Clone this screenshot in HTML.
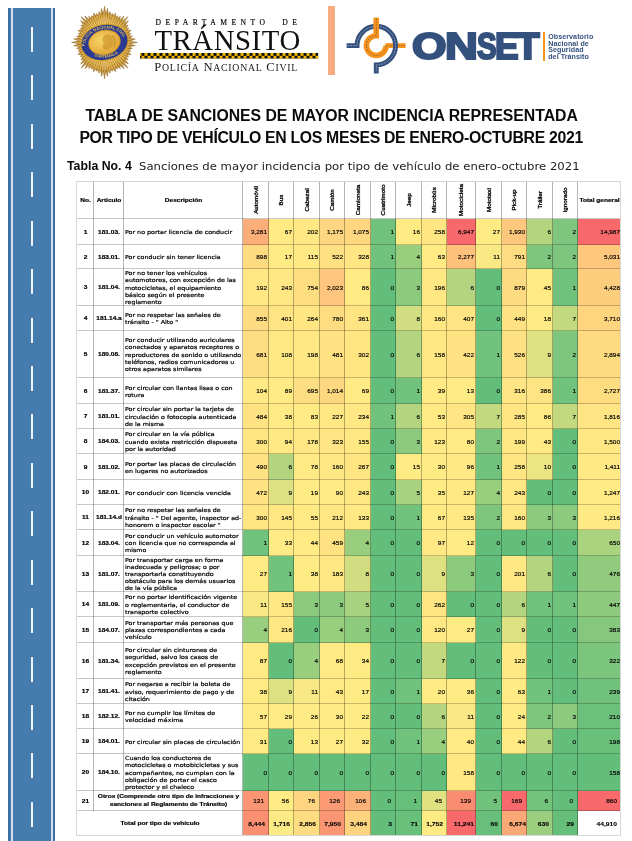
<!DOCTYPE html>
<html lang="es"><head><meta charset="utf-8"><title>Tabla de sanciones de mayor incidencia</title>
<style>
html,body{margin:0;padding:0;background:#fff}
#pg{position:relative;width:632px;height:841px;overflow:hidden;background:#fff;font-family:"DejaVu Sans","Liberation Sans",sans-serif;color:#111}
.c{position:absolute}
.serif{font-family:"Liberation Serif",serif}
.sc{font-size:78%}
.ol{position:absolute;top:24.13px;font-family:'Liberation Sans',sans-serif;font-weight:bold;font-size:35.2px;line-height:44px;color:#34507d;-webkit-text-stroke:2.1px #34507d;transform-origin:0 0;white-space:nowrap}
.ttl{font-family:"Liberation Sans",sans-serif;font-weight:bold;font-size:15.8px;line-height:18px;white-space:nowrap;color:#0a0a0a}
.cap{font-family:"Liberation Sans",sans-serif;font-size:12.4px;line-height:14px;white-space:nowrap;color:#0a0a0a;transform-origin:0 50%;transform:scaleX(0.9945)}
.cap2{font-family:"DejaVu Sans","Liberation Sans",sans-serif;font-size:10.8px;line-height:14px;white-space:nowrap;color:#1c1c1c;transform-origin:0 50%;transform:scaleX(1.083)}
.n{position:absolute;width:60px;text-align:right;font-family:"Liberation Sans",sans-serif;font-size:6px;line-height:8px;height:8px;white-space:nowrap;color:#000;-webkit-text-stroke:0.16px #000;transform-origin:100% 50%;transform:scaleX(1.07)}
.t{position:absolute;text-align:center;font-family:"Liberation Sans",sans-serif;font-size:5.9px;line-height:8px;white-space:nowrap}
.b{font-weight:bold}
.t.b{transform:scaleX(1.11);color:#000;-webkit-text-stroke:0.2px #000}
.n.b{transform-origin:100% 50%;transform:scaleX(1.12);-webkit-text-stroke:0.12px #000}
.d{position:absolute;font-size:5.5px;line-height:7.3px;white-space:nowrap;transform-origin:0 50%;transform:scaleX(1.155);color:#000;-webkit-text-stroke:0.2px #000}
.v{position:absolute;width:60px;height:8px;line-height:8px;text-align:center;font-family:"Liberation Sans",sans-serif;font-size:5.9px;white-space:nowrap;transform:rotate(-90deg) scaleX(1.07);transform-origin:50% 50%;color:#000;-webkit-text-stroke:0.3px #000}
</style></head><body><div id="pg">
<div class="c" style="left:7.8px;top:7.6px;width:47.2px;height:834px;background:#457bad"></div>
<div class="c" style="left:7.8px;top:7.6px;width:2.6px;height:834px;background:#3a70a6"></div>
<div class="c" style="left:52.9px;top:7.6px;width:2.1px;height:834px;background:#3a70a6"></div>
<div class="c" style="left:11.1px;top:7.6px;width:1.6px;height:834px;background:#d3dfec"></div>
<div class="c" style="left:51.3px;top:7.6px;width:1.6px;height:834px;background:#d3dfec"></div>
<div class="c" style="left:30.8px;top:27.00px;width:2.5px;height:25px;background:#eef3f8"></div>
<div class="c" style="left:30.8px;top:75.43px;width:2.5px;height:25px;background:#eef3f8"></div>
<div class="c" style="left:30.8px;top:123.86px;width:2.5px;height:25px;background:#eef3f8"></div>
<div class="c" style="left:30.8px;top:172.29px;width:2.5px;height:25px;background:#eef3f8"></div>
<div class="c" style="left:30.8px;top:220.72px;width:2.5px;height:25px;background:#eef3f8"></div>
<div class="c" style="left:30.8px;top:269.15px;width:2.5px;height:25px;background:#eef3f8"></div>
<div class="c" style="left:30.8px;top:317.58px;width:2.5px;height:25px;background:#eef3f8"></div>
<div class="c" style="left:30.8px;top:366.01px;width:2.5px;height:25px;background:#eef3f8"></div>
<div class="c" style="left:30.8px;top:414.44px;width:2.5px;height:25px;background:#eef3f8"></div>
<div class="c" style="left:30.8px;top:462.87px;width:2.5px;height:25px;background:#eef3f8"></div>
<div class="c" style="left:30.8px;top:511.30px;width:2.5px;height:25px;background:#eef3f8"></div>
<div class="c" style="left:30.8px;top:559.73px;width:2.5px;height:25px;background:#eef3f8"></div>
<div class="c" style="left:30.8px;top:608.16px;width:2.5px;height:25px;background:#eef3f8"></div>
<div class="c" style="left:30.8px;top:656.59px;width:2.5px;height:25px;background:#eef3f8"></div>
<div class="c" style="left:30.8px;top:705.02px;width:2.5px;height:25px;background:#eef3f8"></div>
<div class="c" style="left:30.8px;top:753.45px;width:2.5px;height:25px;background:#eef3f8"></div>
<div class="c" style="left:30.8px;top:801.88px;width:2.5px;height:25px;background:#eef3f8"></div>
<svg class="c" style="left:0;top:0" width="632" height="100" viewBox="0 0 632 100">
<defs>
<radialGradient id="gs" cx="50%" cy="50%" r="50%"><stop offset="0.55" stop-color="#000" stop-opacity="0"/><stop offset="1" stop-color="#5a3508" stop-opacity="0.28"/></radialGradient>
<radialGradient id="gc" cx="42%" cy="40%" r="65%"><stop offset="0" stop-color="#f8d66c"/><stop offset="1" stop-color="#dfa22e"/></radialGradient>
<path id="arcT" d="M 85.2,47.6 A 19.6,14.2 -12 0 1 123.6,38.6"/>
<path id="arcB" d="M 92.5,55.2 A 20,15 -12 0 0 120,51.5"/>
</defs>
<path d="M104.5,42.4L103.3,14.4L104.5,6.0ZM104.5,42.4L105.7,14.4L107.5,8.4ZM104.5,42.4L108.2,14.7L110.0,11.6ZM104.5,42.4L110.7,15.2L112.4,13.5ZM104.5,42.4L113.0,16.0L115.5,13.0ZM104.5,42.4L115.3,17.1L117.4,15.8ZM104.5,42.4L117.5,18.4L120.3,16.3ZM104.5,42.4L119.6,19.9L124.1,16.0ZM104.5,42.4L121.5,21.7L127.8,16.7ZM104.5,42.4L123.3,23.6L128.4,20.7ZM104.5,42.4L124.9,25.7L128.1,25.0ZM104.5,42.4L126.2,28.0L128.6,28.2ZM104.5,42.4L127.4,30.4L131.1,30.2ZM104.5,42.4L128.4,33.0L130.7,33.6ZM104.5,42.4L129.1,35.6L132.4,36.3ZM104.5,42.4L129.6,38.3L135.3,39.0ZM104.5,42.4L129.8,41.0L137.4,42.4ZM104.5,42.4L129.8,43.8L135.3,45.8ZM104.5,42.4L129.6,46.5L132.4,48.5ZM104.5,42.4L129.1,49.2L130.7,51.2ZM104.5,42.4L128.4,51.8L131.1,54.6ZM104.5,42.4L127.4,54.4L128.6,56.6ZM104.5,42.4L126.2,56.8L128.1,59.8ZM104.5,42.4L124.9,59.1L128.4,64.1ZM104.5,42.4L123.3,61.2L127.8,68.1ZM104.5,42.4L121.5,63.1L124.1,68.8ZM104.5,42.4L119.6,64.9L120.3,68.5ZM104.5,42.4L117.5,66.4L117.4,69.0ZM104.5,42.4L115.3,67.7L115.5,71.8ZM104.5,42.4L113.0,68.8L112.4,71.3ZM104.5,42.4L110.7,69.6L110.0,73.2ZM104.5,42.4L108.2,70.1L107.5,76.4ZM104.5,42.4L105.7,70.4L104.5,78.8ZM104.5,42.4L103.3,70.4L101.5,76.4ZM104.5,42.4L100.8,70.1L99.0,73.2ZM104.5,42.4L98.3,69.6L96.6,71.3ZM104.5,42.4L96.0,68.8L93.5,71.8ZM104.5,42.4L93.7,67.7L91.6,69.0ZM104.5,42.4L91.5,66.4L88.7,68.5ZM104.5,42.4L89.4,64.9L84.9,68.8ZM104.5,42.4L87.5,63.1L81.2,68.1ZM104.5,42.4L85.7,61.2L80.6,64.1ZM104.5,42.4L84.1,59.1L80.9,59.8ZM104.5,42.4L82.8,56.8L80.4,56.6ZM104.5,42.4L81.6,54.4L77.9,54.6ZM104.5,42.4L80.6,51.8L78.3,51.2ZM104.5,42.4L79.9,49.2L76.6,48.5ZM104.5,42.4L79.4,46.5L73.7,45.8ZM104.5,42.4L79.2,43.8L71.6,42.4ZM104.5,42.4L79.2,41.0L73.7,39.0ZM104.5,42.4L79.4,38.3L76.6,36.3ZM104.5,42.4L79.9,35.6L78.3,33.6ZM104.5,42.4L80.6,33.0L77.9,30.2ZM104.5,42.4L81.6,30.4L80.4,28.2ZM104.5,42.4L82.8,28.0L80.9,25.0ZM104.5,42.4L84.1,25.7L80.6,20.7ZM104.5,42.4L85.7,23.6L81.2,16.7ZM104.5,42.4L87.5,21.7L84.9,16.0ZM104.5,42.4L89.4,19.9L88.7,16.3ZM104.5,42.4L91.5,18.4L91.6,15.8ZM104.5,42.4L93.7,17.1L93.5,13.0ZM104.5,42.4L96.0,16.0L96.6,13.5ZM104.5,42.4L98.3,15.2L99.0,11.6ZM104.5,42.4L100.8,14.7L101.5,8.4Z" fill="#f4c548"/>
<path d="M104.5,42.4L104.5,6.0L105.7,14.4ZM104.5,42.4L107.5,8.4L108.2,14.7ZM104.5,42.4L110.0,11.6L110.7,15.2ZM104.5,42.4L112.4,13.5L113.0,16.0ZM104.5,42.4L115.5,13.0L115.3,17.1ZM104.5,42.4L117.4,15.8L117.5,18.4ZM104.5,42.4L120.3,16.3L119.6,19.9ZM104.5,42.4L124.1,16.0L121.5,21.7ZM104.5,42.4L127.8,16.7L123.3,23.6ZM104.5,42.4L128.4,20.7L124.9,25.7ZM104.5,42.4L128.1,25.0L126.2,28.0ZM104.5,42.4L128.6,28.2L127.4,30.4ZM104.5,42.4L131.1,30.2L128.4,33.0ZM104.5,42.4L130.7,33.6L129.1,35.6ZM104.5,42.4L132.4,36.3L129.6,38.3ZM104.5,42.4L135.3,39.0L129.8,41.0ZM104.5,42.4L137.4,42.4L129.8,43.8ZM104.5,42.4L135.3,45.8L129.6,46.5ZM104.5,42.4L132.4,48.5L129.1,49.2ZM104.5,42.4L130.7,51.2L128.4,51.8ZM104.5,42.4L131.1,54.6L127.4,54.4ZM104.5,42.4L128.6,56.6L126.2,56.8ZM104.5,42.4L128.1,59.8L124.9,59.1ZM104.5,42.4L128.4,64.1L123.3,61.2ZM104.5,42.4L127.8,68.1L121.5,63.1ZM104.5,42.4L124.1,68.8L119.6,64.9ZM104.5,42.4L120.3,68.5L117.5,66.4ZM104.5,42.4L117.4,69.0L115.3,67.7ZM104.5,42.4L115.5,71.8L113.0,68.8ZM104.5,42.4L112.4,71.3L110.7,69.6ZM104.5,42.4L110.0,73.2L108.2,70.1ZM104.5,42.4L107.5,76.4L105.7,70.4ZM104.5,42.4L104.5,78.8L103.3,70.4ZM104.5,42.4L101.5,76.4L100.8,70.1ZM104.5,42.4L99.0,73.2L98.3,69.6ZM104.5,42.4L96.6,71.3L96.0,68.8ZM104.5,42.4L93.5,71.8L93.7,67.7ZM104.5,42.4L91.6,69.0L91.5,66.4ZM104.5,42.4L88.7,68.5L89.4,64.9ZM104.5,42.4L84.9,68.8L87.5,63.1ZM104.5,42.4L81.2,68.1L85.7,61.2ZM104.5,42.4L80.6,64.1L84.1,59.1ZM104.5,42.4L80.9,59.8L82.8,56.8ZM104.5,42.4L80.4,56.6L81.6,54.4ZM104.5,42.4L77.9,54.6L80.6,51.8ZM104.5,42.4L78.3,51.2L79.9,49.2ZM104.5,42.4L76.6,48.5L79.4,46.5ZM104.5,42.4L73.7,45.8L79.2,43.8ZM104.5,42.4L71.6,42.4L79.2,41.0ZM104.5,42.4L73.7,39.0L79.4,38.3ZM104.5,42.4L76.6,36.3L79.9,35.6ZM104.5,42.4L78.3,33.6L80.6,33.0ZM104.5,42.4L77.9,30.2L81.6,30.4ZM104.5,42.4L80.4,28.2L82.8,28.0ZM104.5,42.4L80.9,25.0L84.1,25.7ZM104.5,42.4L80.6,20.7L85.7,23.6ZM104.5,42.4L81.2,16.7L87.5,21.7ZM104.5,42.4L84.9,16.0L89.4,19.9ZM104.5,42.4L88.7,16.3L91.5,18.4ZM104.5,42.4L91.6,15.8L93.7,17.1ZM104.5,42.4L93.5,13.0L96.0,16.0ZM104.5,42.4L96.6,13.5L98.3,15.2ZM104.5,42.4L99.0,11.6L100.8,14.7ZM104.5,42.4L101.5,8.4L103.3,14.4Z" fill="#c98c1d"/>
<polygon points="103.3,14.4 104.5,6.0 105.7,14.4 107.5,8.4 108.2,14.7 110.0,11.6 110.7,15.2 112.4,13.5 113.0,16.0 115.5,13.0 115.3,17.1 117.4,15.8 117.5,18.4 120.3,16.3 119.6,19.9 124.1,16.0 121.5,21.7 127.8,16.7 123.3,23.6 128.4,20.7 124.9,25.7 128.1,25.0 126.2,28.0 128.6,28.2 127.4,30.4 131.1,30.2 128.4,33.0 130.7,33.6 129.1,35.6 132.4,36.3 129.6,38.3 135.3,39.0 129.8,41.0 137.4,42.4 129.8,43.8 135.3,45.8 129.6,46.5 132.4,48.5 129.1,49.2 130.7,51.2 128.4,51.8 131.1,54.6 127.4,54.4 128.6,56.6 126.2,56.8 128.1,59.8 124.9,59.1 128.4,64.1 123.3,61.2 127.8,68.1 121.5,63.1 124.1,68.8 119.6,64.9 120.3,68.5 117.5,66.4 117.4,69.0 115.3,67.7 115.5,71.8 113.0,68.8 112.4,71.3 110.7,69.6 110.0,73.2 108.2,70.1 107.5,76.4 105.7,70.4 104.5,78.8 103.3,70.4 101.5,76.4 100.8,70.1 99.0,73.2 98.3,69.6 96.6,71.3 96.0,68.8 93.5,71.8 93.7,67.7 91.6,69.0 91.5,66.4 88.7,68.5 89.4,64.9 84.9,68.8 87.5,63.1 81.2,68.1 85.7,61.2 80.6,64.1 84.1,59.1 80.9,59.8 82.8,56.8 80.4,56.6 81.6,54.4 77.9,54.6 80.6,51.8 78.3,51.2 79.9,49.2 76.6,48.5 79.4,46.5 73.7,45.8 79.2,43.8 71.6,42.4 79.2,41.0 73.7,39.0 79.4,38.3 76.6,36.3 79.9,35.6 78.3,33.6 80.6,33.0 77.9,30.2 81.6,30.4 80.4,28.2 82.8,28.0 80.9,25.0 84.1,25.7 80.6,20.7 85.7,23.6 81.2,16.7 87.5,21.7 84.9,16.0 89.4,19.9 88.7,16.3 91.5,18.4 91.6,15.8 93.7,17.1 93.5,13.0 96.0,16.0 96.6,13.5 98.3,15.2 99.0,11.6 100.8,14.7 101.5,8.4" fill="url(#gs)" stroke="#8a5c18" stroke-width="0.45"/>
<ellipse cx="104.5" cy="42.4" rx="24.2" ry="18.3" transform="rotate(-12 104.5 42.4)" fill="#c8952c"/>
<ellipse cx="104.5" cy="42.4" rx="23.2" ry="17.3" transform="rotate(-12 104.5 42.4)" fill="#283a94"/>
<ellipse cx="104.5" cy="42.4" rx="16" ry="12.3" transform="rotate(-12 104.5 42.4)" fill="url(#gc)" stroke="#c08a26" stroke-width="0.7"/>
<path d="M104,35.5 l4,-1.5 l3.5,2 l2,4 l-0.5,5 l-3.5,4 l-5,1 l-2,-3 l1.5,-4 l-2,-3 z" fill="#c98f28" opacity="0.6"/>
<path d="M112.5,35.5 q4,4 1.5,11" stroke="#b5801f" stroke-width="1.2" fill="none" opacity="0.7"/>
<text font-family="Liberation Sans, sans-serif" font-weight="bold" font-size="4" fill="#e6bd55" letter-spacing="0.05"><textPath href="#arcT" startOffset="1.5">POLICIA NACIONAL CIVIL</textPath></text>
<text font-family="Liberation Sans, sans-serif" font-weight="bold" font-size="3.9" fill="#e6bd55"><textPath href="#arcB" startOffset="2">GUATEMALA</textPath></text>
</svg>

<div class="c serif" style="left:155.6px;top:18.1px;font-size:7.6px;line-height:9px;letter-spacing:4.48px;white-space:nowrap;color:#000;-webkit-text-stroke:0.15px #000">DEPARTAMENTO&nbsp;&nbsp;DE</div>
<div class="c serif" id="trans" style="left:154.4px;top:24.3px;font-size:28.8px;line-height:32px;letter-spacing:0.56px;white-space:nowrap;color:#111">TRÁNSITO</div>
<svg class="c" style="left:139.5px;top:52.8px" width="180" height="7" viewBox="0 0 180 7">
<defs><pattern id="chk" x="1.5" width="6" height="5.7" patternUnits="userSpaceOnUse"><rect width="6" height="5.7" fill="#f2b705"/><rect x="0" y="0" width="3" height="2.85" fill="#111"/><rect x="3" y="2.85" width="3" height="2.85" fill="#111"/></pattern></defs>
<rect x="0" y="0" width="178.2" height="5.7" fill="url(#chk)"/></svg>
<div class="c serif" id="pnc" aria-label="POLICÍA NACIONAL CIVIL" style="left:154.3px;top:60.1px;font-size:12.6px;line-height:14px;letter-spacing:0.72px;white-space:nowrap;color:#1a1a1a">P<span class="sc">OLICÍA</span> N<span class="sc">ACIONAL</span> C<span class="sc">IVIL</span></div>
<div class="c" style="left:328px;top:6px;width:6.5px;height:68.7px;background:#f7ab80"></div>

<svg class="c" style="left:0;top:0" width="632" height="100" viewBox="0 0 632 100">
<g fill="none" stroke-linecap="butt" stroke-linejoin="miter">
<!-- orange horizontal stub (under blue) -->
<path d="M 385.2,45.6 H 405.6" stroke="#f7941e" stroke-width="4.8"/>
<path d="M 387.2,45.6 H 405" stroke="#3a3a3a" stroke-width="0.5" stroke-dasharray="1.6 1.2"/>
<!-- blue -->
<path d="M 346.6,45.6 H 357.0 A 19.3,19.3 0 1 1 376.3,64.9 V 73.4" stroke="#34507d" stroke-width="4.9"/>
<path d="M 347.5,45.6 H 357.0 A 19.3,19.3 0 1 1 376.3,64.9 V 72.5" stroke="#e8edf5" stroke-width="0.5" stroke-dasharray="1.7 1.2"/>
<!-- orange ring + vertical stub (over blue) -->
<path d="M 376.3,17.8 V 35.7 A 9.9,9.9 0 1 0 386.2,45.6" stroke="#f7941e" stroke-width="5.6"/>
<path d="M 376.3,32.7 V 17.8" stroke="#f7941e" stroke-width="5.0"/>
<path d="M 376.3,18.5 V 35.7 A 9.9,9.9 0 1 0 386.2,45.6" stroke="#3a3a3a" stroke-width="0.5" stroke-dasharray="1.6 1.2"/>
</g>
</svg>
<div class="c" id="onset" aria-label="ONSET" style="left:0;top:0;width:0;height:0"><span class="ol" style="left:412.47px;transform:scale(1.26,1.036)">O</span><span class="ol" style="left:445.18px;transform:scale(1.292,1.036)">N</span><span class="ol" style="left:476.61px;transform:scale(0.834,1.036)">S</span><span class="ol" style="left:495.14px;transform:scale(1.005,1.036)">E</span><span class="ol" style="left:516.12px;transform:scale(1.096,1.036)">T</span></div>
<div class="c" style="left:543.3px;top:32.3px;width:2px;height:28.5px;background:#f7941e"></div>
<div class="c" id="obs" style="left:548.2px;top:33.8px;font-family:'Liberation Sans',sans-serif;font-weight:bold;font-size:7.1px;line-height:6.7px;letter-spacing:0.08px;color:#34507d;white-space:nowrap">Observatorio<br>Nacional de<br>Seguridad<br>del Tránsito</div>


<div class="c ttl" id="t1" style="left:85.4px;top:107.2px;letter-spacing:-0.04px">TABLA DE SANCIONES DE MAYOR INCIDENCIA REPRESENTADA</div>
<div class="c ttl" id="t2" style="left:79.4px;top:128.8px;letter-spacing:-0.31px">POR TIPO DE VEHÍCULO EN LOS MESES DE ENERO-OCTUBRE 2021</div>
<div class="c cap" id="cap" style="left:66.7px;top:159.2px"><b>Tabla No. 4</b></div>
<div class="c cap2" id="cap2" style="left:139.4px;top:160.1px">Sanciones de mayor incidencia por tipo de vehículo de enero-octubre 2021</div>

<div class="c" style="left:242.50px;top:218.50px;width:26.00px;height:26.00px;background:#fcae78"></div>
<div class="n" style="left:207.20px;top:228.20px">3,281</div>
<div class="c" style="left:268.50px;top:218.50px;width:25.00px;height:26.00px;background:#ffea84"></div>
<div class="n" style="left:232.20px;top:228.20px">67</div>
<div class="c" style="left:293.50px;top:218.50px;width:26.00px;height:26.00px;background:#ffe783"></div>
<div class="n" style="left:258.20px;top:228.20px">202</div>
<div class="c" style="left:319.50px;top:218.50px;width:25.00px;height:26.00px;background:#fed580"></div>
<div class="n" style="left:283.20px;top:228.20px">1,175</div>
<div class="c" style="left:344.50px;top:218.50px;width:26.00px;height:26.00px;background:#fed780"></div>
<div class="n" style="left:309.20px;top:228.20px">1,075</div>
<div class="c" style="left:370.50px;top:218.50px;width:25.00px;height:26.00px;background:#71c27c"></div>
<div class="n" style="left:334.20px;top:228.20px">1</div>
<div class="c" style="left:395.50px;top:218.50px;width:26.00px;height:26.00px;background:#ffeb84"></div>
<div class="n" style="left:360.20px;top:228.20px">16</div>
<div class="c" style="left:421.50px;top:218.50px;width:25.00px;height:26.00px;background:#ffe683"></div>
<div class="n" style="left:385.20px;top:228.20px">258</div>
<div class="c" style="left:446.50px;top:218.50px;width:29.00px;height:26.00px;background:#f8696b"></div>
<div class="n" style="left:414.20px;top:228.20px">6,947</div>
<div class="c" style="left:475.50px;top:218.50px;width:26.00px;height:26.00px;background:#ffeb84"></div>
<div class="n" style="left:440.20px;top:228.20px">27</div>
<div class="c" style="left:501.50px;top:218.50px;width:25.00px;height:26.00px;background:#fdc77d"></div>
<div class="n" style="left:465.20px;top:228.20px">1,930</div>
<div class="c" style="left:526.50px;top:218.50px;width:26.00px;height:26.00px;background:#b4d580"></div>
<div class="n" style="left:491.20px;top:228.20px">6</div>
<div class="c" style="left:552.50px;top:218.50px;width:25.00px;height:26.00px;background:#7ec67d"></div>
<div class="n" style="left:516.20px;top:228.20px">2</div>
<div class="c" style="left:577.50px;top:218.50px;width:43.00px;height:26.00px;background:#f8696b"></div>
<div class="n" style="left:559.70px;top:228.20px">14,987</div>
<div class="t b" style="left:76.50px;width:17.00px;top:227.90px">1</div>
<div class="t b" style="left:93.50px;width:30.00px;top:227.90px">181.03.</div>
<div class="d" style="left:124.90px;top:229.15px;line-height:7.3px">Por no portar licencia de conducir</div>
<div class="c" style="left:242.50px;top:244.50px;width:26.00px;height:24.00px;background:#feda81"></div>
<div class="n" style="left:207.20px;top:253.20px">898</div>
<div class="c" style="left:268.50px;top:244.50px;width:25.00px;height:24.00px;background:#ffeb84"></div>
<div class="n" style="left:232.20px;top:253.20px">17</div>
<div class="c" style="left:293.50px;top:244.50px;width:26.00px;height:24.00px;background:#ffe984"></div>
<div class="n" style="left:258.20px;top:253.20px">115</div>
<div class="c" style="left:319.50px;top:244.50px;width:25.00px;height:24.00px;background:#fee182"></div>
<div class="n" style="left:283.20px;top:253.20px">522</div>
<div class="c" style="left:344.50px;top:244.50px;width:26.00px;height:24.00px;background:#ffe583"></div>
<div class="n" style="left:309.20px;top:253.20px">328</div>
<div class="c" style="left:370.50px;top:244.50px;width:25.00px;height:24.00px;background:#71c27c"></div>
<div class="n" style="left:334.20px;top:253.20px">1</div>
<div class="c" style="left:395.50px;top:244.50px;width:26.00px;height:24.00px;background:#99ce7e"></div>
<div class="n" style="left:360.20px;top:253.20px">4</div>
<div class="c" style="left:421.50px;top:244.50px;width:25.00px;height:24.00px;background:#ffea84"></div>
<div class="n" style="left:385.20px;top:253.20px">63</div>
<div class="c" style="left:446.50px;top:244.50px;width:29.00px;height:24.00px;background:#fdc17c"></div>
<div class="n" style="left:414.20px;top:253.20px">2,277</div>
<div class="c" style="left:475.50px;top:244.50px;width:26.00px;height:24.00px;background:#f8e984"></div>
<div class="n" style="left:440.20px;top:253.20px">11</div>
<div class="c" style="left:501.50px;top:244.50px;width:25.00px;height:24.00px;background:#fedc81"></div>
<div class="n" style="left:465.20px;top:253.20px">791</div>
<div class="c" style="left:526.50px;top:244.50px;width:26.00px;height:24.00px;background:#7ec67d"></div>
<div class="n" style="left:491.20px;top:253.20px">2</div>
<div class="c" style="left:552.50px;top:244.50px;width:25.00px;height:24.00px;background:#7ec67d"></div>
<div class="n" style="left:516.20px;top:253.20px">2</div>
<div class="c" style="left:577.50px;top:244.50px;width:43.00px;height:24.00px;background:#fdc77d"></div>
<div class="n" style="left:559.70px;top:253.20px">5,031</div>
<div class="t b" style="left:76.50px;width:17.00px;top:252.90px">2</div>
<div class="t b" style="left:93.50px;width:30.00px;top:252.90px">183.01.</div>
<div class="d" style="left:124.90px;top:254.15px;line-height:7.3px">Por conducir sin tener licencia</div>
<div class="c" style="left:242.50px;top:268.50px;width:26.00px;height:37.00px;background:#ffe883"></div>
<div class="n" style="left:207.20px;top:283.70px">192</div>
<div class="c" style="left:268.50px;top:268.50px;width:25.00px;height:37.00px;background:#ffe783"></div>
<div class="n" style="left:232.20px;top:283.70px">243</div>
<div class="c" style="left:293.50px;top:268.50px;width:26.00px;height:37.00px;background:#fedd81"></div>
<div class="n" style="left:258.20px;top:283.70px">754</div>
<div class="c" style="left:319.50px;top:268.50px;width:25.00px;height:37.00px;background:#fdc57d"></div>
<div class="n" style="left:283.20px;top:283.70px">2,023</div>
<div class="c" style="left:344.50px;top:268.50px;width:26.00px;height:37.00px;background:#ffea84"></div>
<div class="n" style="left:309.20px;top:283.70px">86</div>
<div class="c" style="left:370.50px;top:268.50px;width:25.00px;height:37.00px;background:#63be7b"></div>
<div class="n" style="left:334.20px;top:283.70px">0</div>
<div class="c" style="left:395.50px;top:268.50px;width:26.00px;height:37.00px;background:#8cca7d"></div>
<div class="n" style="left:360.20px;top:283.70px">3</div>
<div class="c" style="left:421.50px;top:268.50px;width:25.00px;height:37.00px;background:#ffe883"></div>
<div class="n" style="left:385.20px;top:283.70px">196</div>
<div class="c" style="left:446.50px;top:268.50px;width:29.00px;height:37.00px;background:#b4d580"></div>
<div class="n" style="left:414.20px;top:283.70px">6</div>
<div class="c" style="left:475.50px;top:268.50px;width:26.00px;height:37.00px;background:#63be7b"></div>
<div class="n" style="left:440.20px;top:283.70px">0</div>
<div class="c" style="left:501.50px;top:268.50px;width:25.00px;height:37.00px;background:#fedb81"></div>
<div class="n" style="left:465.20px;top:283.70px">879</div>
<div class="c" style="left:526.50px;top:268.50px;width:26.00px;height:37.00px;background:#ffea84"></div>
<div class="n" style="left:491.20px;top:283.70px">45</div>
<div class="c" style="left:552.50px;top:268.50px;width:25.00px;height:37.00px;background:#71c27c"></div>
<div class="n" style="left:516.20px;top:283.70px">1</div>
<div class="c" style="left:577.50px;top:268.50px;width:43.00px;height:37.00px;background:#fdcd7e"></div>
<div class="n" style="left:559.70px;top:283.70px">4,428</div>
<div class="t b" style="left:76.50px;width:17.00px;top:283.40px">3</div>
<div class="t b" style="left:93.50px;width:30.00px;top:283.40px">181.04.</div>
<div class="d" style="left:124.90px;top:270.05px;line-height:7.3px">Por no tener los vehículos<br>automotores, con excepción de las<br>motocicletas, el equipamiento<br>básico según el presente<br>reglamento</div>
<div class="c" style="left:242.50px;top:305.50px;width:26.00px;height:25.00px;background:#fedb81"></div>
<div class="n" style="left:207.20px;top:314.70px">855</div>
<div class="c" style="left:268.50px;top:305.50px;width:25.00px;height:25.00px;background:#ffe483"></div>
<div class="n" style="left:232.20px;top:314.70px">401</div>
<div class="c" style="left:293.50px;top:305.50px;width:26.00px;height:25.00px;background:#ffe683"></div>
<div class="n" style="left:258.20px;top:314.70px">264</div>
<div class="c" style="left:319.50px;top:305.50px;width:25.00px;height:25.00px;background:#fedd81"></div>
<div class="n" style="left:283.20px;top:314.70px">780</div>
<div class="c" style="left:344.50px;top:305.50px;width:26.00px;height:25.00px;background:#ffe483"></div>
<div class="n" style="left:309.20px;top:314.70px">361</div>
<div class="c" style="left:370.50px;top:305.50px;width:25.00px;height:25.00px;background:#63be7b"></div>
<div class="n" style="left:334.20px;top:314.70px">0</div>
<div class="c" style="left:395.50px;top:305.50px;width:26.00px;height:25.00px;background:#d0dd81"></div>
<div class="n" style="left:360.20px;top:314.70px">8</div>
<div class="c" style="left:421.50px;top:305.50px;width:25.00px;height:25.00px;background:#ffe883"></div>
<div class="n" style="left:385.20px;top:314.70px">160</div>
<div class="c" style="left:446.50px;top:305.50px;width:29.00px;height:25.00px;background:#ffe483"></div>
<div class="n" style="left:414.20px;top:314.70px">407</div>
<div class="c" style="left:475.50px;top:305.50px;width:26.00px;height:25.00px;background:#63be7b"></div>
<div class="n" style="left:440.20px;top:314.70px">0</div>
<div class="c" style="left:501.50px;top:305.50px;width:25.00px;height:25.00px;background:#ffe382"></div>
<div class="n" style="left:465.20px;top:314.70px">449</div>
<div class="c" style="left:526.50px;top:305.50px;width:26.00px;height:25.00px;background:#ffeb84"></div>
<div class="n" style="left:491.20px;top:314.70px">18</div>
<div class="c" style="left:552.50px;top:305.50px;width:25.00px;height:25.00px;background:#c2d980"></div>
<div class="n" style="left:516.20px;top:314.70px">7</div>
<div class="c" style="left:577.50px;top:305.50px;width:43.00px;height:25.00px;background:#fed47f"></div>
<div class="n" style="left:559.70px;top:314.70px">3,710</div>
<div class="t b" style="left:76.50px;width:17.00px;top:314.40px">4</div>
<div class="t b" style="left:93.50px;width:30.00px;top:314.40px">181.14.a</div>
<div class="d" style="left:124.90px;top:312.00px;line-height:7.3px">Por no respetar las señales de<br>tránsito - " Alto "</div>
<div class="c" style="left:242.50px;top:330.50px;width:26.00px;height:47.00px;background:#fede82"></div>
<div class="n" style="left:207.20px;top:350.70px">681</div>
<div class="c" style="left:268.50px;top:330.50px;width:25.00px;height:47.00px;background:#ffe984"></div>
<div class="n" style="left:232.20px;top:350.70px">108</div>
<div class="c" style="left:293.50px;top:330.50px;width:26.00px;height:47.00px;background:#ffe883"></div>
<div class="n" style="left:258.20px;top:350.70px">198</div>
<div class="c" style="left:319.50px;top:330.50px;width:25.00px;height:47.00px;background:#ffe282"></div>
<div class="n" style="left:283.20px;top:350.70px">481</div>
<div class="c" style="left:344.50px;top:330.50px;width:26.00px;height:47.00px;background:#ffe683"></div>
<div class="n" style="left:309.20px;top:350.70px">302</div>
<div class="c" style="left:370.50px;top:330.50px;width:25.00px;height:47.00px;background:#63be7b"></div>
<div class="n" style="left:334.20px;top:350.70px">0</div>
<div class="c" style="left:395.50px;top:330.50px;width:26.00px;height:47.00px;background:#b4d580"></div>
<div class="n" style="left:360.20px;top:350.70px">6</div>
<div class="c" style="left:421.50px;top:330.50px;width:25.00px;height:47.00px;background:#ffe883"></div>
<div class="n" style="left:385.20px;top:350.70px">158</div>
<div class="c" style="left:446.50px;top:330.50px;width:29.00px;height:47.00px;background:#ffe383"></div>
<div class="n" style="left:414.20px;top:350.70px">422</div>
<div class="c" style="left:475.50px;top:330.50px;width:26.00px;height:47.00px;background:#71c27c"></div>
<div class="n" style="left:440.20px;top:350.70px">1</div>
<div class="c" style="left:501.50px;top:330.50px;width:25.00px;height:47.00px;background:#fee182"></div>
<div class="n" style="left:465.20px;top:350.70px">526</div>
<div class="c" style="left:526.50px;top:330.50px;width:26.00px;height:47.00px;background:#dde182"></div>
<div class="n" style="left:491.20px;top:350.70px">9</div>
<div class="c" style="left:552.50px;top:330.50px;width:25.00px;height:47.00px;background:#7ec67d"></div>
<div class="n" style="left:516.20px;top:350.70px">2</div>
<div class="c" style="left:577.50px;top:330.50px;width:43.00px;height:47.00px;background:#fedb81"></div>
<div class="n" style="left:559.70px;top:350.70px">2,894</div>
<div class="t b" style="left:76.50px;width:17.00px;top:350.40px">5</div>
<div class="t b" style="left:93.50px;width:30.00px;top:350.40px">180.08.</div>
<div class="d" style="left:124.90px;top:337.05px;line-height:7.3px">Por conducir utilizando auriculares<br>conectados y aparatos receptores o<br>reproductores de sonido o utilizando<br>teléfonos, radios comunicadores u<br>otros aparatos similares</div>
<div class="c" style="left:242.50px;top:377.50px;width:26.00px;height:26.00px;background:#ffe984"></div>
<div class="n" style="left:207.20px;top:387.20px">104</div>
<div class="c" style="left:268.50px;top:377.50px;width:25.00px;height:26.00px;background:#ffea84"></div>
<div class="n" style="left:232.20px;top:387.20px">89</div>
<div class="c" style="left:293.50px;top:377.50px;width:26.00px;height:26.00px;background:#fede82"></div>
<div class="n" style="left:258.20px;top:387.20px">695</div>
<div class="c" style="left:319.50px;top:377.50px;width:25.00px;height:26.00px;background:#fed880"></div>
<div class="n" style="left:283.20px;top:387.20px">1,014</div>
<div class="c" style="left:344.50px;top:377.50px;width:26.00px;height:26.00px;background:#ffea84"></div>
<div class="n" style="left:309.20px;top:387.20px">69</div>
<div class="c" style="left:370.50px;top:377.50px;width:25.00px;height:26.00px;background:#63be7b"></div>
<div class="n" style="left:334.20px;top:387.20px">0</div>
<div class="c" style="left:395.50px;top:377.50px;width:26.00px;height:26.00px;background:#71c27c"></div>
<div class="n" style="left:360.20px;top:387.20px">1</div>
<div class="c" style="left:421.50px;top:377.50px;width:25.00px;height:26.00px;background:#ffea84"></div>
<div class="n" style="left:385.20px;top:387.20px">39</div>
<div class="c" style="left:446.50px;top:377.50px;width:29.00px;height:26.00px;background:#ffeb84"></div>
<div class="n" style="left:414.20px;top:387.20px">13</div>
<div class="c" style="left:475.50px;top:377.50px;width:26.00px;height:26.00px;background:#63be7b"></div>
<div class="n" style="left:440.20px;top:387.20px">0</div>
<div class="c" style="left:501.50px;top:377.50px;width:25.00px;height:26.00px;background:#ffe583"></div>
<div class="n" style="left:465.20px;top:387.20px">316</div>
<div class="c" style="left:526.50px;top:377.50px;width:26.00px;height:26.00px;background:#ffe483"></div>
<div class="n" style="left:491.20px;top:387.20px">386</div>
<div class="c" style="left:552.50px;top:377.50px;width:25.00px;height:26.00px;background:#71c27c"></div>
<div class="n" style="left:516.20px;top:387.20px">1</div>
<div class="c" style="left:577.50px;top:377.50px;width:43.00px;height:26.00px;background:#fedd81"></div>
<div class="n" style="left:559.70px;top:387.20px">2,727</div>
<div class="t b" style="left:76.50px;width:17.00px;top:386.90px">6</div>
<div class="t b" style="left:93.50px;width:30.00px;top:386.90px">181.37.</div>
<div class="d" style="left:124.90px;top:384.50px;line-height:7.3px">Por circular con llantas lisas o con<br>rotura</div>
<div class="c" style="left:242.50px;top:403.50px;width:26.00px;height:25.00px;background:#ffe282"></div>
<div class="n" style="left:207.20px;top:412.70px">484</div>
<div class="c" style="left:268.50px;top:403.50px;width:25.00px;height:25.00px;background:#ffeb84"></div>
<div class="n" style="left:232.20px;top:412.70px">38</div>
<div class="c" style="left:293.50px;top:403.50px;width:26.00px;height:25.00px;background:#ffea84"></div>
<div class="n" style="left:258.20px;top:412.70px">83</div>
<div class="c" style="left:319.50px;top:403.50px;width:25.00px;height:25.00px;background:#ffe783"></div>
<div class="n" style="left:283.20px;top:412.70px">227</div>
<div class="c" style="left:344.50px;top:403.50px;width:26.00px;height:25.00px;background:#ffe783"></div>
<div class="n" style="left:309.20px;top:412.70px">234</div>
<div class="c" style="left:370.50px;top:403.50px;width:25.00px;height:25.00px;background:#71c27c"></div>
<div class="n" style="left:334.20px;top:412.70px">1</div>
<div class="c" style="left:395.50px;top:403.50px;width:26.00px;height:25.00px;background:#b4d580"></div>
<div class="n" style="left:360.20px;top:412.70px">6</div>
<div class="c" style="left:421.50px;top:403.50px;width:25.00px;height:25.00px;background:#ffea84"></div>
<div class="n" style="left:385.20px;top:412.70px">53</div>
<div class="c" style="left:446.50px;top:403.50px;width:29.00px;height:25.00px;background:#ffe583"></div>
<div class="n" style="left:414.20px;top:412.70px">305</div>
<div class="c" style="left:475.50px;top:403.50px;width:26.00px;height:25.00px;background:#c2d980"></div>
<div class="n" style="left:440.20px;top:412.70px">7</div>
<div class="c" style="left:501.50px;top:403.50px;width:25.00px;height:25.00px;background:#ffe683"></div>
<div class="n" style="left:465.20px;top:412.70px">285</div>
<div class="c" style="left:526.50px;top:403.50px;width:26.00px;height:25.00px;background:#ffea84"></div>
<div class="n" style="left:491.20px;top:412.70px">86</div>
<div class="c" style="left:552.50px;top:403.50px;width:25.00px;height:25.00px;background:#c2d980"></div>
<div class="n" style="left:516.20px;top:412.70px">7</div>
<div class="c" style="left:577.50px;top:403.50px;width:43.00px;height:25.00px;background:#ffe583"></div>
<div class="n" style="left:559.70px;top:412.70px">1,816</div>
<div class="t b" style="left:76.50px;width:17.00px;top:412.40px">7</div>
<div class="t b" style="left:93.50px;width:30.00px;top:412.40px">181.01.</div>
<div class="d" style="left:124.90px;top:406.35px;line-height:7.3px">Por circular sin portar la tarjeta de<br>circulación o fotocopia autenticada<br>de la misma</div>
<div class="c" style="left:242.50px;top:428.50px;width:26.00px;height:25.00px;background:#ffe683"></div>
<div class="n" style="left:207.20px;top:437.70px">300</div>
<div class="c" style="left:268.50px;top:428.50px;width:25.00px;height:25.00px;background:#ffe984"></div>
<div class="n" style="left:232.20px;top:437.70px">94</div>
<div class="c" style="left:293.50px;top:428.50px;width:26.00px;height:25.00px;background:#ffe883"></div>
<div class="n" style="left:258.20px;top:437.70px">178</div>
<div class="c" style="left:319.50px;top:428.50px;width:25.00px;height:25.00px;background:#ffe583"></div>
<div class="n" style="left:283.20px;top:437.70px">323</div>
<div class="c" style="left:344.50px;top:428.50px;width:26.00px;height:25.00px;background:#ffe883"></div>
<div class="n" style="left:309.20px;top:437.70px">155</div>
<div class="c" style="left:370.50px;top:428.50px;width:25.00px;height:25.00px;background:#63be7b"></div>
<div class="n" style="left:334.20px;top:437.70px">0</div>
<div class="c" style="left:395.50px;top:428.50px;width:26.00px;height:25.00px;background:#8cca7d"></div>
<div class="n" style="left:360.20px;top:437.70px">3</div>
<div class="c" style="left:421.50px;top:428.50px;width:25.00px;height:25.00px;background:#ffe984"></div>
<div class="n" style="left:385.20px;top:437.70px">123</div>
<div class="c" style="left:446.50px;top:428.50px;width:29.00px;height:25.00px;background:#ffea84"></div>
<div class="n" style="left:414.20px;top:437.70px">80</div>
<div class="c" style="left:475.50px;top:428.50px;width:26.00px;height:25.00px;background:#7ec67d"></div>
<div class="n" style="left:440.20px;top:437.70px">2</div>
<div class="c" style="left:501.50px;top:428.50px;width:25.00px;height:25.00px;background:#ffe783"></div>
<div class="n" style="left:465.20px;top:437.70px">199</div>
<div class="c" style="left:526.50px;top:428.50px;width:26.00px;height:25.00px;background:#ffea84"></div>
<div class="n" style="left:491.20px;top:437.70px">43</div>
<div class="c" style="left:552.50px;top:428.50px;width:25.00px;height:25.00px;background:#63be7b"></div>
<div class="n" style="left:516.20px;top:437.70px">0</div>
<div class="c" style="left:577.50px;top:428.50px;width:43.00px;height:25.00px;background:#ffe884"></div>
<div class="n" style="left:559.70px;top:437.70px">1,500</div>
<div class="t b" style="left:76.50px;width:17.00px;top:437.40px">8</div>
<div class="t b" style="left:93.50px;width:30.00px;top:437.40px">184.03.</div>
<div class="d" style="left:124.90px;top:431.35px;line-height:7.3px">Por circular en la vía pública<br>cuando exista restricción dispuesta<br>por la autoridad</div>
<div class="c" style="left:242.50px;top:453.50px;width:26.00px;height:26.00px;background:#ffe282"></div>
<div class="n" style="left:207.20px;top:463.20px">490</div>
<div class="c" style="left:268.50px;top:453.50px;width:25.00px;height:26.00px;background:#b4d580"></div>
<div class="n" style="left:232.20px;top:463.20px">6</div>
<div class="c" style="left:293.50px;top:453.50px;width:26.00px;height:26.00px;background:#ffea84"></div>
<div class="n" style="left:258.20px;top:463.20px">78</div>
<div class="c" style="left:319.50px;top:453.50px;width:25.00px;height:26.00px;background:#ffe883"></div>
<div class="n" style="left:283.20px;top:463.20px">160</div>
<div class="c" style="left:344.50px;top:453.50px;width:26.00px;height:26.00px;background:#ffe683"></div>
<div class="n" style="left:309.20px;top:463.20px">267</div>
<div class="c" style="left:370.50px;top:453.50px;width:25.00px;height:26.00px;background:#63be7b"></div>
<div class="n" style="left:334.20px;top:463.20px">0</div>
<div class="c" style="left:395.50px;top:453.50px;width:26.00px;height:26.00px;background:#ffeb84"></div>
<div class="n" style="left:360.20px;top:463.20px">15</div>
<div class="c" style="left:421.50px;top:453.50px;width:25.00px;height:26.00px;background:#ffeb84"></div>
<div class="n" style="left:385.20px;top:463.20px">30</div>
<div class="c" style="left:446.50px;top:453.50px;width:29.00px;height:26.00px;background:#ffe984"></div>
<div class="n" style="left:414.20px;top:463.20px">96</div>
<div class="c" style="left:475.50px;top:453.50px;width:26.00px;height:26.00px;background:#71c27c"></div>
<div class="n" style="left:440.20px;top:463.20px">1</div>
<div class="c" style="left:501.50px;top:453.50px;width:25.00px;height:26.00px;background:#ffe683"></div>
<div class="n" style="left:465.20px;top:463.20px">258</div>
<div class="c" style="left:526.50px;top:453.50px;width:26.00px;height:26.00px;background:#ebe583"></div>
<div class="n" style="left:491.20px;top:463.20px">10</div>
<div class="c" style="left:552.50px;top:453.50px;width:25.00px;height:26.00px;background:#63be7b"></div>
<div class="n" style="left:516.20px;top:463.20px">0</div>
<div class="c" style="left:577.50px;top:453.50px;width:43.00px;height:26.00px;background:#ffe984"></div>
<div class="n" style="left:559.70px;top:463.20px">1,411</div>
<div class="t b" style="left:76.50px;width:17.00px;top:462.90px">9</div>
<div class="t b" style="left:93.50px;width:30.00px;top:462.90px">181.02.</div>
<div class="d" style="left:124.90px;top:460.50px;line-height:7.3px">Por portar las placas de circulación<br>en lugares no autorizados</div>
<div class="c" style="left:242.50px;top:479.50px;width:26.00px;height:25.00px;background:#ffe282"></div>
<div class="n" style="left:207.20px;top:488.70px">472</div>
<div class="c" style="left:268.50px;top:479.50px;width:25.00px;height:25.00px;background:#dde182"></div>
<div class="n" style="left:232.20px;top:488.70px">9</div>
<div class="c" style="left:293.50px;top:479.50px;width:26.00px;height:25.00px;background:#ffeb84"></div>
<div class="n" style="left:258.20px;top:488.70px">19</div>
<div class="c" style="left:319.50px;top:479.50px;width:25.00px;height:25.00px;background:#ffea84"></div>
<div class="n" style="left:283.20px;top:488.70px">90</div>
<div class="c" style="left:344.50px;top:479.50px;width:26.00px;height:25.00px;background:#ffe783"></div>
<div class="n" style="left:309.20px;top:488.70px">243</div>
<div class="c" style="left:370.50px;top:479.50px;width:25.00px;height:25.00px;background:#63be7b"></div>
<div class="n" style="left:334.20px;top:488.70px">0</div>
<div class="c" style="left:395.50px;top:479.50px;width:26.00px;height:25.00px;background:#a7d27f"></div>
<div class="n" style="left:360.20px;top:488.70px">5</div>
<div class="c" style="left:421.50px;top:479.50px;width:25.00px;height:25.00px;background:#ffeb84"></div>
<div class="n" style="left:385.20px;top:488.70px">35</div>
<div class="c" style="left:446.50px;top:479.50px;width:29.00px;height:25.00px;background:#ffe984"></div>
<div class="n" style="left:414.20px;top:488.70px">127</div>
<div class="c" style="left:475.50px;top:479.50px;width:26.00px;height:25.00px;background:#99ce7e"></div>
<div class="n" style="left:440.20px;top:488.70px">4</div>
<div class="c" style="left:501.50px;top:479.50px;width:25.00px;height:25.00px;background:#ffe783"></div>
<div class="n" style="left:465.20px;top:488.70px">243</div>
<div class="c" style="left:526.50px;top:479.50px;width:26.00px;height:25.00px;background:#63be7b"></div>
<div class="n" style="left:491.20px;top:488.70px">0</div>
<div class="c" style="left:552.50px;top:479.50px;width:25.00px;height:25.00px;background:#63be7b"></div>
<div class="n" style="left:516.20px;top:488.70px">0</div>
<div class="c" style="left:577.50px;top:479.50px;width:43.00px;height:25.00px;background:#ffeb84"></div>
<div class="n" style="left:559.70px;top:488.70px">1,247</div>
<div class="t b" style="left:76.50px;width:17.00px;top:488.40px">10</div>
<div class="t b" style="left:93.50px;width:30.00px;top:488.40px">182.01.</div>
<div class="d" style="left:124.90px;top:489.65px;line-height:7.3px">Por conducir con licencia vencida</div>
<div class="c" style="left:242.50px;top:504.50px;width:26.00px;height:25.00px;background:#ffe683"></div>
<div class="n" style="left:207.20px;top:513.70px">300</div>
<div class="c" style="left:268.50px;top:504.50px;width:25.00px;height:25.00px;background:#ffe884"></div>
<div class="n" style="left:232.20px;top:513.70px">145</div>
<div class="c" style="left:293.50px;top:504.50px;width:26.00px;height:25.00px;background:#ffea84"></div>
<div class="n" style="left:258.20px;top:513.70px">55</div>
<div class="c" style="left:319.50px;top:504.50px;width:25.00px;height:25.00px;background:#ffe783"></div>
<div class="n" style="left:283.20px;top:513.70px">212</div>
<div class="c" style="left:344.50px;top:504.50px;width:26.00px;height:25.00px;background:#ffe984"></div>
<div class="n" style="left:309.20px;top:513.70px">133</div>
<div class="c" style="left:370.50px;top:504.50px;width:25.00px;height:25.00px;background:#63be7b"></div>
<div class="n" style="left:334.20px;top:513.70px">0</div>
<div class="c" style="left:395.50px;top:504.50px;width:26.00px;height:25.00px;background:#71c27c"></div>
<div class="n" style="left:360.20px;top:513.70px">1</div>
<div class="c" style="left:421.50px;top:504.50px;width:25.00px;height:25.00px;background:#ffea84"></div>
<div class="n" style="left:385.20px;top:513.70px">67</div>
<div class="c" style="left:446.50px;top:504.50px;width:29.00px;height:25.00px;background:#ffe984"></div>
<div class="n" style="left:414.20px;top:513.70px">135</div>
<div class="c" style="left:475.50px;top:504.50px;width:26.00px;height:25.00px;background:#7ec67d"></div>
<div class="n" style="left:440.20px;top:513.70px">2</div>
<div class="c" style="left:501.50px;top:504.50px;width:25.00px;height:25.00px;background:#ffe883"></div>
<div class="n" style="left:465.20px;top:513.70px">160</div>
<div class="c" style="left:526.50px;top:504.50px;width:26.00px;height:25.00px;background:#8cca7d"></div>
<div class="n" style="left:491.20px;top:513.70px">3</div>
<div class="c" style="left:552.50px;top:504.50px;width:25.00px;height:25.00px;background:#8cca7d"></div>
<div class="n" style="left:516.20px;top:513.70px">3</div>
<div class="c" style="left:577.50px;top:504.50px;width:43.00px;height:25.00px;background:#fdea84"></div>
<div class="n" style="left:559.70px;top:513.70px">1,216</div>
<div class="t b" style="left:76.50px;width:17.00px;top:513.40px">11</div>
<div class="t b" style="left:93.50px;width:30.00px;top:513.40px">181.14.d</div>
<div class="d" style="left:124.90px;top:507.35px;line-height:7.3px">Por no respetar las señales de<br>tránsito - " Del agente, inspector ad-<br>honorem o inspector escolar "</div>
<div class="c" style="left:242.50px;top:529.50px;width:26.00px;height:26.00px;background:#71c27c"></div>
<div class="n" style="left:207.20px;top:539.20px">1</div>
<div class="c" style="left:268.50px;top:529.50px;width:25.00px;height:26.00px;background:#ffeb84"></div>
<div class="n" style="left:232.20px;top:539.20px">33</div>
<div class="c" style="left:293.50px;top:529.50px;width:26.00px;height:26.00px;background:#ffea84"></div>
<div class="n" style="left:258.20px;top:539.20px">44</div>
<div class="c" style="left:319.50px;top:529.50px;width:25.00px;height:26.00px;background:#ffe382"></div>
<div class="n" style="left:283.20px;top:539.20px">459</div>
<div class="c" style="left:344.50px;top:529.50px;width:26.00px;height:26.00px;background:#99ce7e"></div>
<div class="n" style="left:309.20px;top:539.20px">4</div>
<div class="c" style="left:370.50px;top:529.50px;width:25.00px;height:26.00px;background:#63be7b"></div>
<div class="n" style="left:334.20px;top:539.20px">0</div>
<div class="c" style="left:395.50px;top:529.50px;width:26.00px;height:26.00px;background:#63be7b"></div>
<div class="n" style="left:360.20px;top:539.20px">0</div>
<div class="c" style="left:421.50px;top:529.50px;width:25.00px;height:26.00px;background:#ffe984"></div>
<div class="n" style="left:385.20px;top:539.20px">97</div>
<div class="c" style="left:446.50px;top:529.50px;width:29.00px;height:26.00px;background:#ffeb84"></div>
<div class="n" style="left:414.20px;top:539.20px">12</div>
<div class="c" style="left:475.50px;top:529.50px;width:26.00px;height:26.00px;background:#63be7b"></div>
<div class="n" style="left:440.20px;top:539.20px">0</div>
<div class="c" style="left:501.50px;top:529.50px;width:25.00px;height:26.00px;background:#63be7b"></div>
<div class="n" style="left:465.20px;top:539.20px">0</div>
<div class="c" style="left:526.50px;top:529.50px;width:26.00px;height:26.00px;background:#63be7b"></div>
<div class="n" style="left:491.20px;top:539.20px">0</div>
<div class="c" style="left:552.50px;top:529.50px;width:25.00px;height:26.00px;background:#63be7b"></div>
<div class="n" style="left:516.20px;top:539.20px">0</div>
<div class="c" style="left:577.50px;top:529.50px;width:43.00px;height:26.00px;background:#aad37f"></div>
<div class="n" style="left:559.70px;top:539.20px">650</div>
<div class="t b" style="left:76.50px;width:17.00px;top:538.90px">12</div>
<div class="t b" style="left:93.50px;width:30.00px;top:538.90px">183.04.</div>
<div class="d" style="left:124.90px;top:532.85px;line-height:7.3px">Por conducir un vehículo automotor<br>con licencia que no corresponda al<br>mismo</div>
<div class="c" style="left:242.50px;top:555.50px;width:26.00px;height:36.00px;background:#ffeb84"></div>
<div class="n" style="left:207.20px;top:570.20px">27</div>
<div class="c" style="left:268.50px;top:555.50px;width:25.00px;height:36.00px;background:#71c27c"></div>
<div class="n" style="left:232.20px;top:570.20px">1</div>
<div class="c" style="left:293.50px;top:555.50px;width:26.00px;height:36.00px;background:#ffeb84"></div>
<div class="n" style="left:258.20px;top:570.20px">38</div>
<div class="c" style="left:319.50px;top:555.50px;width:25.00px;height:36.00px;background:#ffe883"></div>
<div class="n" style="left:283.20px;top:570.20px">183</div>
<div class="c" style="left:344.50px;top:555.50px;width:26.00px;height:36.00px;background:#d0dd81"></div>
<div class="n" style="left:309.20px;top:570.20px">8</div>
<div class="c" style="left:370.50px;top:555.50px;width:25.00px;height:36.00px;background:#63be7b"></div>
<div class="n" style="left:334.20px;top:570.20px">0</div>
<div class="c" style="left:395.50px;top:555.50px;width:26.00px;height:36.00px;background:#63be7b"></div>
<div class="n" style="left:360.20px;top:570.20px">0</div>
<div class="c" style="left:421.50px;top:555.50px;width:25.00px;height:36.00px;background:#dde182"></div>
<div class="n" style="left:385.20px;top:570.20px">9</div>
<div class="c" style="left:446.50px;top:555.50px;width:29.00px;height:36.00px;background:#8cca7d"></div>
<div class="n" style="left:414.20px;top:570.20px">3</div>
<div class="c" style="left:475.50px;top:555.50px;width:26.00px;height:36.00px;background:#63be7b"></div>
<div class="n" style="left:440.20px;top:570.20px">0</div>
<div class="c" style="left:501.50px;top:555.50px;width:25.00px;height:36.00px;background:#ffe783"></div>
<div class="n" style="left:465.20px;top:570.20px">201</div>
<div class="c" style="left:526.50px;top:555.50px;width:26.00px;height:36.00px;background:#b4d580"></div>
<div class="n" style="left:491.20px;top:570.20px">6</div>
<div class="c" style="left:552.50px;top:555.50px;width:25.00px;height:36.00px;background:#63be7b"></div>
<div class="n" style="left:516.20px;top:570.20px">0</div>
<div class="c" style="left:577.50px;top:555.50px;width:43.00px;height:36.00px;background:#91cb7e"></div>
<div class="n" style="left:559.70px;top:570.20px">476</div>
<div class="t b" style="left:76.50px;width:17.00px;top:569.90px">13</div>
<div class="t b" style="left:93.50px;width:30.00px;top:569.90px">181.07.</div>
<div class="d" style="left:124.90px;top:557.30px;line-height:7.0px">Por transportar carga en forma<br>inadecuada y peligrosa; o por<br>transportarla constituyendo<br>obstáculo para los demás usuarios<br>de la vía pública</div>
<div class="c" style="left:242.50px;top:591.50px;width:26.00px;height:25.00px;background:#f8e984"></div>
<div class="n" style="left:207.20px;top:600.70px">11</div>
<div class="c" style="left:268.50px;top:591.50px;width:25.00px;height:25.00px;background:#ffe883"></div>
<div class="n" style="left:232.20px;top:600.70px">155</div>
<div class="c" style="left:293.50px;top:591.50px;width:26.00px;height:25.00px;background:#8cca7d"></div>
<div class="n" style="left:258.20px;top:600.70px">3</div>
<div class="c" style="left:319.50px;top:591.50px;width:25.00px;height:25.00px;background:#8cca7d"></div>
<div class="n" style="left:283.20px;top:600.70px">3</div>
<div class="c" style="left:344.50px;top:591.50px;width:26.00px;height:25.00px;background:#a7d27f"></div>
<div class="n" style="left:309.20px;top:600.70px">5</div>
<div class="c" style="left:370.50px;top:591.50px;width:25.00px;height:25.00px;background:#63be7b"></div>
<div class="n" style="left:334.20px;top:600.70px">0</div>
<div class="c" style="left:395.50px;top:591.50px;width:26.00px;height:25.00px;background:#63be7b"></div>
<div class="n" style="left:360.20px;top:600.70px">0</div>
<div class="c" style="left:421.50px;top:591.50px;width:25.00px;height:25.00px;background:#ffe683"></div>
<div class="n" style="left:385.20px;top:600.70px">262</div>
<div class="c" style="left:446.50px;top:591.50px;width:29.00px;height:25.00px;background:#63be7b"></div>
<div class="n" style="left:414.20px;top:600.70px">0</div>
<div class="c" style="left:475.50px;top:591.50px;width:26.00px;height:25.00px;background:#63be7b"></div>
<div class="n" style="left:440.20px;top:600.70px">0</div>
<div class="c" style="left:501.50px;top:591.50px;width:25.00px;height:25.00px;background:#b4d580"></div>
<div class="n" style="left:465.20px;top:600.70px">6</div>
<div class="c" style="left:526.50px;top:591.50px;width:26.00px;height:25.00px;background:#71c27c"></div>
<div class="n" style="left:491.20px;top:600.70px">1</div>
<div class="c" style="left:552.50px;top:591.50px;width:25.00px;height:25.00px;background:#71c27c"></div>
<div class="n" style="left:516.20px;top:600.70px">1</div>
<div class="c" style="left:577.50px;top:591.50px;width:43.00px;height:25.00px;background:#8dca7d"></div>
<div class="n" style="left:559.70px;top:600.70px">447</div>
<div class="t b" style="left:76.50px;width:17.00px;top:600.40px">14</div>
<div class="t b" style="left:93.50px;width:30.00px;top:600.40px">181.09.</div>
<div class="d" style="left:124.90px;top:594.35px;line-height:7.3px">Por no portar identificación vigente<br>o reglamentaria, el conductor de<br>transporte colectivo</div>
<div class="c" style="left:242.50px;top:616.50px;width:26.00px;height:26.00px;background:#99ce7e"></div>
<div class="n" style="left:207.20px;top:626.20px">4</div>
<div class="c" style="left:268.50px;top:616.50px;width:25.00px;height:26.00px;background:#ffe783"></div>
<div class="n" style="left:232.20px;top:626.20px">216</div>
<div class="c" style="left:293.50px;top:616.50px;width:26.00px;height:26.00px;background:#63be7b"></div>
<div class="n" style="left:258.20px;top:626.20px">0</div>
<div class="c" style="left:319.50px;top:616.50px;width:25.00px;height:26.00px;background:#99ce7e"></div>
<div class="n" style="left:283.20px;top:626.20px">4</div>
<div class="c" style="left:344.50px;top:616.50px;width:26.00px;height:26.00px;background:#8cca7d"></div>
<div class="n" style="left:309.20px;top:626.20px">3</div>
<div class="c" style="left:370.50px;top:616.50px;width:25.00px;height:26.00px;background:#63be7b"></div>
<div class="n" style="left:334.20px;top:626.20px">0</div>
<div class="c" style="left:395.50px;top:616.50px;width:26.00px;height:26.00px;background:#63be7b"></div>
<div class="n" style="left:360.20px;top:626.20px">0</div>
<div class="c" style="left:421.50px;top:616.50px;width:25.00px;height:26.00px;background:#ffe984"></div>
<div class="n" style="left:385.20px;top:626.20px">120</div>
<div class="c" style="left:446.50px;top:616.50px;width:29.00px;height:26.00px;background:#ffeb84"></div>
<div class="n" style="left:414.20px;top:626.20px">27</div>
<div class="c" style="left:475.50px;top:616.50px;width:26.00px;height:26.00px;background:#63be7b"></div>
<div class="n" style="left:440.20px;top:626.20px">0</div>
<div class="c" style="left:501.50px;top:616.50px;width:25.00px;height:26.00px;background:#dde182"></div>
<div class="n" style="left:465.20px;top:626.20px">9</div>
<div class="c" style="left:526.50px;top:616.50px;width:26.00px;height:26.00px;background:#63be7b"></div>
<div class="n" style="left:491.20px;top:626.20px">0</div>
<div class="c" style="left:552.50px;top:616.50px;width:25.00px;height:26.00px;background:#63be7b"></div>
<div class="n" style="left:516.20px;top:626.20px">0</div>
<div class="c" style="left:577.50px;top:616.50px;width:43.00px;height:26.00px;background:#84c77d"></div>
<div class="n" style="left:559.70px;top:626.20px">383</div>
<div class="t b" style="left:76.50px;width:17.00px;top:625.90px">15</div>
<div class="t b" style="left:93.50px;width:30.00px;top:625.90px">184.07.</div>
<div class="d" style="left:124.90px;top:619.85px;line-height:7.3px">Por transportar más personas que<br>plazas correspondientes a cada<br>vehículo</div>
<div class="c" style="left:242.50px;top:642.50px;width:26.00px;height:36.00px;background:#ffea84"></div>
<div class="n" style="left:207.20px;top:657.20px">87</div>
<div class="c" style="left:268.50px;top:642.50px;width:25.00px;height:36.00px;background:#63be7b"></div>
<div class="n" style="left:232.20px;top:657.20px">0</div>
<div class="c" style="left:293.50px;top:642.50px;width:26.00px;height:36.00px;background:#99ce7e"></div>
<div class="n" style="left:258.20px;top:657.20px">4</div>
<div class="c" style="left:319.50px;top:642.50px;width:25.00px;height:36.00px;background:#ffea84"></div>
<div class="n" style="left:283.20px;top:657.20px">68</div>
<div class="c" style="left:344.50px;top:642.50px;width:26.00px;height:36.00px;background:#ffeb84"></div>
<div class="n" style="left:309.20px;top:657.20px">34</div>
<div class="c" style="left:370.50px;top:642.50px;width:25.00px;height:36.00px;background:#63be7b"></div>
<div class="n" style="left:334.20px;top:657.20px">0</div>
<div class="c" style="left:395.50px;top:642.50px;width:26.00px;height:36.00px;background:#63be7b"></div>
<div class="n" style="left:360.20px;top:657.20px">0</div>
<div class="c" style="left:421.50px;top:642.50px;width:25.00px;height:36.00px;background:#c2d980"></div>
<div class="n" style="left:385.20px;top:657.20px">7</div>
<div class="c" style="left:446.50px;top:642.50px;width:29.00px;height:36.00px;background:#63be7b"></div>
<div class="n" style="left:414.20px;top:657.20px">0</div>
<div class="c" style="left:475.50px;top:642.50px;width:26.00px;height:36.00px;background:#63be7b"></div>
<div class="n" style="left:440.20px;top:657.20px">0</div>
<div class="c" style="left:501.50px;top:642.50px;width:25.00px;height:36.00px;background:#ffe984"></div>
<div class="n" style="left:465.20px;top:657.20px">122</div>
<div class="c" style="left:526.50px;top:642.50px;width:26.00px;height:36.00px;background:#63be7b"></div>
<div class="n" style="left:491.20px;top:657.20px">0</div>
<div class="c" style="left:552.50px;top:642.50px;width:25.00px;height:36.00px;background:#63be7b"></div>
<div class="n" style="left:516.20px;top:657.20px">0</div>
<div class="c" style="left:577.50px;top:642.50px;width:43.00px;height:36.00px;background:#7bc57c"></div>
<div class="n" style="left:559.70px;top:657.20px">322</div>
<div class="t b" style="left:76.50px;width:17.00px;top:656.90px">16</div>
<div class="t b" style="left:93.50px;width:30.00px;top:656.90px">181.34.</div>
<div class="d" style="left:124.90px;top:647.20px;line-height:7.3px">Por circular sin cinturones de<br>seguridad, salvo los casos de<br>excepción previstos en el presente<br>reglamento</div>
<div class="c" style="left:242.50px;top:678.50px;width:26.00px;height:25.00px;background:#ffeb84"></div>
<div class="n" style="left:207.20px;top:687.70px">38</div>
<div class="c" style="left:268.50px;top:678.50px;width:25.00px;height:25.00px;background:#dde182"></div>
<div class="n" style="left:232.20px;top:687.70px">9</div>
<div class="c" style="left:293.50px;top:678.50px;width:26.00px;height:25.00px;background:#f8e984"></div>
<div class="n" style="left:258.20px;top:687.70px">11</div>
<div class="c" style="left:319.50px;top:678.50px;width:25.00px;height:25.00px;background:#ffea84"></div>
<div class="n" style="left:283.20px;top:687.70px">43</div>
<div class="c" style="left:344.50px;top:678.50px;width:26.00px;height:25.00px;background:#ffeb84"></div>
<div class="n" style="left:309.20px;top:687.70px">17</div>
<div class="c" style="left:370.50px;top:678.50px;width:25.00px;height:25.00px;background:#63be7b"></div>
<div class="n" style="left:334.20px;top:687.70px">0</div>
<div class="c" style="left:395.50px;top:678.50px;width:26.00px;height:25.00px;background:#71c27c"></div>
<div class="n" style="left:360.20px;top:687.70px">1</div>
<div class="c" style="left:421.50px;top:678.50px;width:25.00px;height:25.00px;background:#ffeb84"></div>
<div class="n" style="left:385.20px;top:687.70px">20</div>
<div class="c" style="left:446.50px;top:678.50px;width:29.00px;height:25.00px;background:#ffeb84"></div>
<div class="n" style="left:414.20px;top:687.70px">36</div>
<div class="c" style="left:475.50px;top:678.50px;width:26.00px;height:25.00px;background:#63be7b"></div>
<div class="n" style="left:440.20px;top:687.70px">0</div>
<div class="c" style="left:501.50px;top:678.50px;width:25.00px;height:25.00px;background:#ffea84"></div>
<div class="n" style="left:465.20px;top:687.70px">63</div>
<div class="c" style="left:526.50px;top:678.50px;width:26.00px;height:25.00px;background:#71c27c"></div>
<div class="n" style="left:491.20px;top:687.70px">1</div>
<div class="c" style="left:552.50px;top:678.50px;width:25.00px;height:25.00px;background:#63be7b"></div>
<div class="n" style="left:516.20px;top:687.70px">0</div>
<div class="c" style="left:577.50px;top:678.50px;width:43.00px;height:25.00px;background:#6fc17c"></div>
<div class="n" style="left:559.70px;top:687.70px">239</div>
<div class="t b" style="left:76.50px;width:17.00px;top:687.40px">17</div>
<div class="t b" style="left:93.50px;width:30.00px;top:687.40px">181.41.</div>
<div class="d" style="left:124.90px;top:681.35px;line-height:7.3px">Por negarse a recibir la boleta de<br>aviso, requerimiento de pago y de<br>citación</div>
<div class="c" style="left:242.50px;top:703.50px;width:26.00px;height:25.00px;background:#ffea84"></div>
<div class="n" style="left:207.20px;top:712.70px">57</div>
<div class="c" style="left:268.50px;top:703.50px;width:25.00px;height:25.00px;background:#ffeb84"></div>
<div class="n" style="left:232.20px;top:712.70px">29</div>
<div class="c" style="left:293.50px;top:703.50px;width:26.00px;height:25.00px;background:#ffeb84"></div>
<div class="n" style="left:258.20px;top:712.70px">26</div>
<div class="c" style="left:319.50px;top:703.50px;width:25.00px;height:25.00px;background:#ffeb84"></div>
<div class="n" style="left:283.20px;top:712.70px">30</div>
<div class="c" style="left:344.50px;top:703.50px;width:26.00px;height:25.00px;background:#ffeb84"></div>
<div class="n" style="left:309.20px;top:712.70px">22</div>
<div class="c" style="left:370.50px;top:703.50px;width:25.00px;height:25.00px;background:#63be7b"></div>
<div class="n" style="left:334.20px;top:712.70px">0</div>
<div class="c" style="left:395.50px;top:703.50px;width:26.00px;height:25.00px;background:#63be7b"></div>
<div class="n" style="left:360.20px;top:712.70px">0</div>
<div class="c" style="left:421.50px;top:703.50px;width:25.00px;height:25.00px;background:#b4d580"></div>
<div class="n" style="left:385.20px;top:712.70px">6</div>
<div class="c" style="left:446.50px;top:703.50px;width:29.00px;height:25.00px;background:#f8e984"></div>
<div class="n" style="left:414.20px;top:712.70px">11</div>
<div class="c" style="left:475.50px;top:703.50px;width:26.00px;height:25.00px;background:#63be7b"></div>
<div class="n" style="left:440.20px;top:712.70px">0</div>
<div class="c" style="left:501.50px;top:703.50px;width:25.00px;height:25.00px;background:#ffeb84"></div>
<div class="n" style="left:465.20px;top:712.70px">24</div>
<div class="c" style="left:526.50px;top:703.50px;width:26.00px;height:25.00px;background:#7ec67d"></div>
<div class="n" style="left:491.20px;top:712.70px">2</div>
<div class="c" style="left:552.50px;top:703.50px;width:25.00px;height:25.00px;background:#8cca7d"></div>
<div class="n" style="left:516.20px;top:712.70px">3</div>
<div class="c" style="left:577.50px;top:703.50px;width:43.00px;height:25.00px;background:#6bc07b"></div>
<div class="n" style="left:559.70px;top:712.70px">210</div>
<div class="t b" style="left:76.50px;width:17.00px;top:712.40px">18</div>
<div class="t b" style="left:93.50px;width:30.00px;top:712.40px">182.12.</div>
<div class="d" style="left:124.90px;top:710.00px;line-height:7.3px">Por no cumplir los límites de<br>velocidad máxima</div>
<div class="c" style="left:242.50px;top:728.50px;width:26.00px;height:25.00px;background:#ffeb84"></div>
<div class="n" style="left:207.20px;top:737.70px">31</div>
<div class="c" style="left:268.50px;top:728.50px;width:25.00px;height:25.00px;background:#63be7b"></div>
<div class="n" style="left:232.20px;top:737.70px">0</div>
<div class="c" style="left:293.50px;top:728.50px;width:26.00px;height:25.00px;background:#ffeb84"></div>
<div class="n" style="left:258.20px;top:737.70px">13</div>
<div class="c" style="left:319.50px;top:728.50px;width:25.00px;height:25.00px;background:#ffeb84"></div>
<div class="n" style="left:283.20px;top:737.70px">27</div>
<div class="c" style="left:344.50px;top:728.50px;width:26.00px;height:25.00px;background:#ffeb84"></div>
<div class="n" style="left:309.20px;top:737.70px">32</div>
<div class="c" style="left:370.50px;top:728.50px;width:25.00px;height:25.00px;background:#63be7b"></div>
<div class="n" style="left:334.20px;top:737.70px">0</div>
<div class="c" style="left:395.50px;top:728.50px;width:26.00px;height:25.00px;background:#71c27c"></div>
<div class="n" style="left:360.20px;top:737.70px">1</div>
<div class="c" style="left:421.50px;top:728.50px;width:25.00px;height:25.00px;background:#99ce7e"></div>
<div class="n" style="left:385.20px;top:737.70px">4</div>
<div class="c" style="left:446.50px;top:728.50px;width:29.00px;height:25.00px;background:#ffea84"></div>
<div class="n" style="left:414.20px;top:737.70px">40</div>
<div class="c" style="left:475.50px;top:728.50px;width:26.00px;height:25.00px;background:#63be7b"></div>
<div class="n" style="left:440.20px;top:737.70px">0</div>
<div class="c" style="left:501.50px;top:728.50px;width:25.00px;height:25.00px;background:#ffea84"></div>
<div class="n" style="left:465.20px;top:737.70px">44</div>
<div class="c" style="left:526.50px;top:728.50px;width:26.00px;height:25.00px;background:#b4d580"></div>
<div class="n" style="left:491.20px;top:737.70px">6</div>
<div class="c" style="left:552.50px;top:728.50px;width:25.00px;height:25.00px;background:#63be7b"></div>
<div class="n" style="left:516.20px;top:737.70px">0</div>
<div class="c" style="left:577.50px;top:728.50px;width:43.00px;height:25.00px;background:#69c07b"></div>
<div class="n" style="left:559.70px;top:737.70px">198</div>
<div class="t b" style="left:76.50px;width:17.00px;top:737.40px">19</div>
<div class="t b" style="left:93.50px;width:30.00px;top:737.40px">184.01.</div>
<div class="d" style="left:124.90px;top:738.65px;line-height:7.3px">Por circular sin placas de circulación</div>
<div class="c" style="left:242.50px;top:753.50px;width:26.00px;height:37.00px;background:#63be7b"></div>
<div class="n" style="left:207.20px;top:768.70px">0</div>
<div class="c" style="left:268.50px;top:753.50px;width:25.00px;height:37.00px;background:#63be7b"></div>
<div class="n" style="left:232.20px;top:768.70px">0</div>
<div class="c" style="left:293.50px;top:753.50px;width:26.00px;height:37.00px;background:#63be7b"></div>
<div class="n" style="left:258.20px;top:768.70px">0</div>
<div class="c" style="left:319.50px;top:753.50px;width:25.00px;height:37.00px;background:#63be7b"></div>
<div class="n" style="left:283.20px;top:768.70px">0</div>
<div class="c" style="left:344.50px;top:753.50px;width:26.00px;height:37.00px;background:#63be7b"></div>
<div class="n" style="left:309.20px;top:768.70px">0</div>
<div class="c" style="left:370.50px;top:753.50px;width:25.00px;height:37.00px;background:#63be7b"></div>
<div class="n" style="left:334.20px;top:768.70px">0</div>
<div class="c" style="left:395.50px;top:753.50px;width:26.00px;height:37.00px;background:#63be7b"></div>
<div class="n" style="left:360.20px;top:768.70px">0</div>
<div class="c" style="left:421.50px;top:753.50px;width:25.00px;height:37.00px;background:#63be7b"></div>
<div class="n" style="left:385.20px;top:768.70px">0</div>
<div class="c" style="left:446.50px;top:753.50px;width:29.00px;height:37.00px;background:#ffe883"></div>
<div class="n" style="left:414.20px;top:768.70px">158</div>
<div class="c" style="left:475.50px;top:753.50px;width:26.00px;height:37.00px;background:#63be7b"></div>
<div class="n" style="left:440.20px;top:768.70px">0</div>
<div class="c" style="left:501.50px;top:753.50px;width:25.00px;height:37.00px;background:#63be7b"></div>
<div class="n" style="left:465.20px;top:768.70px">0</div>
<div class="c" style="left:526.50px;top:753.50px;width:26.00px;height:37.00px;background:#63be7b"></div>
<div class="n" style="left:491.20px;top:768.70px">0</div>
<div class="c" style="left:552.50px;top:753.50px;width:25.00px;height:37.00px;background:#63be7b"></div>
<div class="n" style="left:516.20px;top:768.70px">0</div>
<div class="c" style="left:577.50px;top:753.50px;width:43.00px;height:37.00px;background:#63be7b"></div>
<div class="n" style="left:559.70px;top:768.70px">158</div>
<div class="t b" style="left:76.50px;width:17.00px;top:768.40px">20</div>
<div class="t b" style="left:93.50px;width:30.00px;top:768.40px">184.10.</div>
<div class="d" style="left:124.90px;top:755.05px;line-height:7.3px">Cuando los conductores de<br>motocicletas o motobicicletas y sus<br>acompañantes, no cumplan con la<br>obligación de portar el casco<br>protector y el chaleco</div>
<div class="c" style="left:242.50px;top:790.50px;width:26.00px;height:20.00px;background:#fa9573"></div>
<div class="n" style="left:204.30px;top:797.20px">131</div>
<div class="c" style="left:268.50px;top:790.50px;width:25.00px;height:20.00px;background:#ffeb84"></div>
<div class="n" style="left:229.30px;top:797.20px">56</div>
<div class="c" style="left:293.50px;top:790.50px;width:26.00px;height:20.00px;background:#fed480"></div>
<div class="n" style="left:255.30px;top:797.20px">76</div>
<div class="c" style="left:319.50px;top:790.50px;width:25.00px;height:20.00px;background:#fb9a75"></div>
<div class="n" style="left:280.30px;top:797.20px">126</div>
<div class="c" style="left:344.50px;top:790.50px;width:26.00px;height:20.00px;background:#fcb179"></div>
<div class="n" style="left:306.30px;top:797.20px">106</div>
<div class="c" style="left:370.50px;top:790.50px;width:25.00px;height:20.00px;background:#63be7b"></div>
<div class="n" style="left:331.30px;top:797.20px">0</div>
<div class="c" style="left:395.50px;top:790.50px;width:26.00px;height:20.00px;background:#66bf7b"></div>
<div class="n" style="left:357.30px;top:797.20px">1</div>
<div class="c" style="left:421.50px;top:790.50px;width:25.00px;height:20.00px;background:#e0e282"></div>
<div class="n" style="left:382.30px;top:797.20px">45</div>
<div class="c" style="left:446.50px;top:790.50px;width:29.00px;height:20.00px;background:#fa8c72"></div>
<div class="n" style="left:411.30px;top:797.20px">139</div>
<div class="c" style="left:475.50px;top:790.50px;width:26.00px;height:20.00px;background:#71c27c"></div>
<div class="n" style="left:437.30px;top:797.20px">5</div>
<div class="c" style="left:501.50px;top:790.50px;width:25.00px;height:20.00px;background:#f8696b"></div>
<div class="n" style="left:462.30px;top:797.20px">169</div>
<div class="c" style="left:526.50px;top:790.50px;width:26.00px;height:20.00px;background:#74c37c"></div>
<div class="n" style="left:488.30px;top:797.20px">6</div>
<div class="c" style="left:552.50px;top:790.50px;width:25.00px;height:20.00px;background:#63be7b"></div>
<div class="n" style="left:513.30px;top:797.20px">0</div>
<div class="c" style="left:577.50px;top:790.50px;width:43.00px;height:20.00px;background:#f8696b"></div>
<div class="n" style="left:556.60px;top:797.20px">860</div>
<div class="t b" style="left:76.50px;width:17.00px;top:796.90px">21</div>
<div class="t b" style="left:93.50px;width:149.00px;top:793.30px;line-height:7.3px">Otros (Comprende otro tipo de infracciones y<br>sanciones al Reglamento de Tránsito)</div>
<div class="c" style="left:242.50px;top:810.50px;width:26.00px;height:25.00px;background:#fa8f72"></div>
<div class="n b" style="left:204.50px;top:819.70px">8,444</div>
<div class="c" style="left:268.50px;top:810.50px;width:25.00px;height:25.00px;background:#fcea84"></div>
<div class="n b" style="left:229.50px;top:819.70px">1,716</div>
<div class="c" style="left:293.50px;top:810.50px;width:26.00px;height:25.00px;background:#fedc81"></div>
<div class="n b" style="left:255.50px;top:819.70px">2,856</div>
<div class="c" style="left:319.50px;top:810.50px;width:25.00px;height:25.00px;background:#fa9674"></div>
<div class="n b" style="left:280.50px;top:819.70px">7,950</div>
<div class="c" style="left:344.50px;top:810.50px;width:26.00px;height:25.00px;background:#fed37f"></div>
<div class="n b" style="left:306.50px;top:819.70px">3,484</div>
<div class="c" style="left:370.50px;top:810.50px;width:25.00px;height:25.00px;background:#63be7b"></div>
<div class="n b" style="left:331.50px;top:819.70px">3</div>
<div class="c" style="left:395.50px;top:810.50px;width:26.00px;height:25.00px;background:#69c07b"></div>
<div class="n b" style="left:357.50px;top:819.70px">71</div>
<div class="c" style="left:421.50px;top:810.50px;width:25.00px;height:25.00px;background:#ffeb84"></div>
<div class="n b" style="left:382.50px;top:819.70px">1,752</div>
<div class="c" style="left:446.50px;top:810.50px;width:29.00px;height:25.00px;background:#f8696b"></div>
<div class="n b" style="left:414.30px;top:819.70px">11,241</div>
<div class="c" style="left:475.50px;top:810.50px;width:26.00px;height:25.00px;background:#68bf7b"></div>
<div class="n b" style="left:437.50px;top:819.70px">60</div>
<div class="c" style="left:501.50px;top:810.50px;width:25.00px;height:25.00px;background:#fba877"></div>
<div class="n b" style="left:466.10px;top:819.70px">6,674</div>
<div class="c" style="left:526.50px;top:810.50px;width:26.00px;height:25.00px;background:#9bce7e"></div>
<div class="n b" style="left:488.50px;top:819.70px">630</div>
<div class="c" style="left:552.50px;top:810.50px;width:25.00px;height:25.00px;background:#65bf7b"></div>
<div class="n b" style="left:513.50px;top:819.70px">29</div>
<div class="n b" style="left:556.60px;top:819.70px">44,910</div>
<div class="t b" style="left:76.50px;width:166.00px;top:819.40px">Total por tipo de vehículo</div>
<div class="t b" style="left:76.50px;width:17.00px;top:196.20px">No.</div>
<div class="t b" style="left:93.50px;width:30.00px;top:196.20px">Artículo</div>
<div class="t b" style="left:123.50px;width:119.00px;top:196.20px">Descripción</div>
<div class="t b tg" style="left:577.50px;width:43.00px;top:196.20px">Total general</div>
<div class="v" style="left:225.90px;top:196.20px">Automóvil</div>
<div class="v" style="left:251.40px;top:196.20px">Bus</div>
<div class="v" style="left:276.90px;top:196.20px">Cabezal</div>
<div class="v" style="left:302.40px;top:196.20px">Camión</div>
<div class="v" style="left:327.90px;top:196.20px">Camioneta</div>
<div class="v" style="left:353.40px;top:196.20px">Cuatrimoto</div>
<div class="v" style="left:378.90px;top:196.20px">Jeep</div>
<div class="v" style="left:404.40px;top:196.20px">Microbús</div>
<div class="v" style="left:431.40px;top:196.20px">Motocicleta</div>
<div class="v" style="left:458.90px;top:196.20px">Mototaxi</div>
<div class="v" style="left:484.40px;top:196.20px">Pick-up</div>
<div class="v" style="left:509.90px;top:196.20px">Tráiler</div>
<div class="v" style="left:535.40px;top:196.20px">Ignorado</div>
<svg class="c" style="left:0;top:0" width="632" height="841" viewBox="0 0 632 841" shape-rendering="crispEdges"><path d="M76.50,218.50H620.50M76.50,244.50H620.50M76.50,268.50H620.50M76.50,305.50H620.50M76.50,330.50H620.50M76.50,377.50H620.50M76.50,403.50H620.50M76.50,428.50H620.50M76.50,453.50H620.50M76.50,479.50H620.50M76.50,504.50H620.50M76.50,529.50H620.50M76.50,555.50H620.50M76.50,591.50H620.50M76.50,616.50H620.50M76.50,642.50H620.50M76.50,678.50H620.50M76.50,703.50H620.50M76.50,728.50H620.50M76.50,753.50H620.50M76.50,790.50H620.50M76.50,810.50H620.50" stroke="#000" stroke-opacity="0.22" stroke-width="1" fill="none"/><path d="M93.50,181.50V810.50M123.50,181.50V790.50M242.50,181.50V835.50M268.50,181.50V835.50M293.50,181.50V835.50M319.50,181.50V835.50M344.50,181.50V835.50M370.50,181.50V835.50M395.50,181.50V835.50M421.50,181.50V835.50M446.50,181.50V835.50M475.50,181.50V835.50M501.50,181.50V835.50M526.50,181.50V835.50M552.50,181.50V835.50M577.50,181.50V835.50" stroke="#000" stroke-opacity="0.29" stroke-width="1" fill="none"/><path d="M76.50,181.00V836.00M620.50,181.00V836.00M76.00,181.50H621.00M76.00,835.50H621.00" stroke="#d6d8d7" stroke-width="1" fill="none"/></svg>
</div></body></html>
